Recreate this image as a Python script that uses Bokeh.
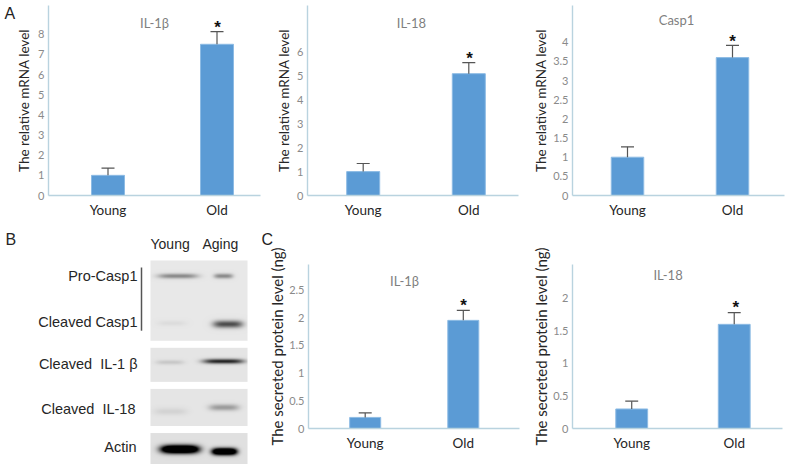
import numpy as np
from bokeh.plotting import figure
from bokeh.layouts import column, row
from bokeh.models import FixedTicker, Range1d
from bokeh.core.properties import value
from bokeh.embed import file_html
from bokeh.resources import INLINE

categories = ["Young", "Old"]

il1b_vals = [1.0, 7.5];   il1b_err = [1.36, 8.13]
il18_vals = [1.0, 5.1];   il18_err = [1.34, 5.56]
casp_vals = [1.0, 3.6];   casp_err = [1.27, 3.92]
sec1b_vals = [0.2, 1.95]; sec1b_err = [0.28, 2.13]
sec18_vals = [0.3, 1.6];  sec18_err = [0.42, 1.78]

ticks_il1b = [0, 1, 2, 3, 4, 5, 6, 7, 8]
ticks_il18 = [0, 1, 2, 3, 4, 5, 6]
ticks_casp = [0, 0.5, 1, 1.5, 2, 2.5, 3, 3.5, 4]
ticks_sec1b = [0, 0.5, 1, 1.5, 2, 2.5]
ticks_sec18 = [0, 0.5, 1, 1.5, 2]

blot_labels = ["Pro-Casp1", "Cleaved Casp1", "Cleaved\u00a0\u00a0IL-1 β", "Cleaved\u00a0\u00a0IL-18", "Actin"]
blot_lanes = ["Young", "Aging"]

LATO = "Lato"
ARIAL = "Liberation Sans"
BAR = "#5b9bd5"
AXIS = "#b9d3df"


def panel(px0, py0, w, h, axis_x, axis_end, top_y, base_y, c0, c1, bar_w, tick_y,
          tick_v, vals, errs, ticks, title, title_x, title_y, star_x, star_y, ylabel,
          ylabel_standoff, ylabel_size, letter=None):
    ppu = (base_y - tick_y) / tick_v
    sp = c1 - c0
    x_range = Range1d((axis_x - c0) / sp, (axis_end - c0) / sp)
    y_range = Range1d(0, (base_y - top_y) / ppu)
    p = figure(width=w, height=h, x_range=x_range, y_range=y_range, output_backend="svg",
               toolbar_location=None, min_border_left=int(round(axis_x - px0)),
               min_border_right=int(round(px0 + w - axis_end)),
               min_border_top=int(round(top_y - py0)),
               min_border_bottom=int(round(py0 + h - base_y)),
               outline_line_color=None, background_fill_color="white")
    p.grid.visible = False
    xs = list(range(len(categories)))
    cap = 6.5 / sp
    p.vbar(x=xs, top=vals, bottom=0, width=bar_w / sp, fill_color=BAR, line_color="#8dbbe4", line_width=1)
    p.segment(x0=xs, x1=xs, y0=vals, y1=errs, line_color="#555555", line_width=1.2)
    p.segment(x0=[x - cap for x in xs], x1=[x + cap for x in xs], y0=errs, y1=errs,
              line_color="#555555", line_width=1.2)
    xa, ya = p.xaxis[0], p.yaxis[0]
    xa.ticker = FixedTicker(ticks=xs)
    xa.major_label_overrides = {i: c for i, c in enumerate(categories)}
    xa.major_label_text_font = LATO
    xa.major_label_text_font_size = "13.5px"
    xa.major_label_text_color = "#262626"
    xa.major_label_standoff = 6
    xa.major_tick_out = 0
    xa.major_tick_in = 0
    xa.minor_tick_out = 0
    xa.minor_tick_in = 0
    xa.axis_line_color = AXIS
    xa.axis_line_width = 1.4
    ya.ticker = FixedTicker(ticks=ticks)
    ya.major_label_overrides = {t: str(t) for t in ticks}
    ya.major_label_text_font = LATO
    ya.major_label_text_font_size = "11px"
    ya.major_label_text_color = "#8a8a8a"
    ya.major_label_standoff = 4
    ya.major_tick_out = 0
    ya.major_tick_in = 0
    ya.minor_tick_out = 0
    ya.minor_tick_in = 0
    ya.axis_line_color = AXIS
    ya.axis_line_width = 1.4
    ya.axis_label = ylabel
    ya.axis_label_text_font = LATO
    ya.axis_label_text_font_size = ylabel_size
    ya.axis_label_text_font_style = "normal"
    ya.axis_label_text_color = "#262626"
    ya.axis_label_standoff = ylabel_standoff
    to_x = lambda v: (v - c0) / sp
    to_y = lambda v: (base_y - v) / ppu
    p.text(x=[to_x(title_x)], y=[to_y(title_y)], text=[title], text_font=value(LATO),
           text_font_size="13px", text_color="#7f7f7f", text_align="center", text_baseline="middle")
    p.text(x=[to_x(star_x)], y=[to_y(star_y)], text=["*"], text_font=value(ARIAL),
           text_font_size="17px", text_font_style="bold", text_color="#111111",
           text_align="center", text_baseline="middle")
    if letter:
        s, lx, ly = letter
        p.text(x=[to_x(lx)], y=[to_y(ly)], text=[s], text_font=value(ARIAL), text_font_size="16px",
               text_color="#222222", text_align="left", text_baseline="middle", level="overlay")
    return p


a1 = panel(0, 0, 270, 225, 48, 260, 5, 195, 107.5, 216.5, 33, 33.7, 8, il1b_vals, il1b_err,
           ticks_il1b, "IL-1β", 154, 22, 217, 27, "The relative mRNA level", 3, "13.5px", ("A", 4, 13))
a2 = panel(270, 0, 259, 225, 307, 518, 5, 195, 362.7, 468.3, 33, 51.7, 6, il18_vals, il18_err,
           ticks_il18, "IL-18", 411, 22, 469, 58, "The relative mRNA level", 2, "13.5px")
a3 = panel(529, 0, 260, 225, 572, 784, 5, 194.5, 627, 732, 32.5, 41.7, 4, casp_vals, casp_err,
           ticks_casp, "Casp1", 676, 19, 732, 41, "The relative mRNA level", 1, "13.5px")
c1 = panel(259, 225, 270, 239, 308, 519, 264, 427.5, 364.7, 462.8, 31, 289.3, 2.5, sec1b_vals, sec1b_err,
           ticks_sec1b, "IL-1β", 404, 280, 463, 305, "The secreted protein level (ng)", 0, "15px", ("C", 261, 239))
c2 = panel(529, 225, 260, 239, 571, 782, 264, 427.5, 630.5, 733.5, 32, 297.7, 2, sec18_vals, sec18_err,
           ticks_sec18, "IL-18", 667, 274, 735, 307, "The secreted protein level (ng)", 0, "15px")

# Frame of the blot figure lines up with its row neighbours; all marks sit on the overlay level so
# they may reach outside that frame.
b = figure(width=259, height=239, x_range=Range1d(0, 259), y_range=Range1d(427.5, 264),
           output_backend="svg", toolbar_location=None, min_border_left=0, min_border_right=0,
           min_border_top=39, min_border_bottom=36,
           outline_line_color=None, background_fill_color=None, border_fill_color=None)
b.axis.visible = False
b.grid.visible = False

# blot boxes: x0, x1, y0, y1, gray
boxes = [(150, 247, 260, 340, 0.91), (150, 247, 347, 381, 0.90),
         (150, 247, 388, 424, 0.90), (150, 247, 431, 462, 0.88)]
# blot bands: x0, x1, y, half-height, darkness
bands = [(157, 197, 275, 2.4, 0.42), (213, 232, 275, 2.4, 0.42),
         (157, 185, 322, 2.5, 0.05), (212, 242, 323, 3.6, 0.68),
         (155, 183, 361, 2.2, 0.13), (202, 243, 360, 2.4, 0.85),
         (153, 186, 410, 3.5, 0.08), (208, 238, 406, 3.2, 0.32),
         (160, 198, 446.7, 4.0, 1.90), (211, 236, 449, 3.4, 1.80)]
X0, X1, Y0, Y1 = 150, 247, 260, 463
yy, xx = np.mgrid[Y0:Y1, X0:X1]
gray = np.ones(yy.shape)
for x0, x1, y0, y1, g in boxes:
    gray[(yy >= y0) & (yy < y1)] = g
dark = np.zeros(yy.shape)
for x0, x1, y, s, d in bands:
    cx, rx = (x0 + x1) / 2, (x1 - x0) / 2
    dark += d * np.exp(-((xx - cx) / rx) ** 4 - ((yy - y) / s) ** 2)
gray = np.where(gray < 1, np.clip(gray * (1 - dark), 0, 1), 1.0)
v = (gray * 255).astype(np.uint32)
rgba = (255 << 24 | v << 16 | v << 8 | v).astype(np.uint32)
b.image_rgba(image=[rgba], x=[X0], y=[Y0], dw=[X1 - X0], dh=[Y1 - Y0], level="overlay")

b.segment(x0=[141], x1=[141], y0=[267], y1=[330], line_color="#555555", line_width=1.5, level="overlay")


def label(p, x, y, s, size, align="left", color="#262626", font=ARIAL):
    p.text(x=[x], y=[y], text=[s], text_font=value(font), text_font_size=size,
           text_color=color, text_align=align, text_baseline="middle", level="overlay")


label(b, 150, 244, blot_lanes[0], "14px")
label(b, 202, 244, blot_lanes[1], "14px")
label(b, 137, 275, blot_labels[0], "14.5px", "right")
label(b, 137, 321, blot_labels[1], "14.5px", "right")
label(b, 137, 363, blot_labels[2], "14.5px", "right")
label(b, 135, 408, blot_labels[3], "14.5px", "right")
label(b, 136, 446, blot_labels[4], "14.5px", "right")
label(b, 5, 239, "B", "16px")

root = column(row(a1, a2, a3, spacing=0), row(b, c1, c2, spacing=0), spacing=0,
              styles={"position": "absolute", "left": "0px", "top": "0px"})
open("out.html", "w").write(file_html(root, INLINE))
